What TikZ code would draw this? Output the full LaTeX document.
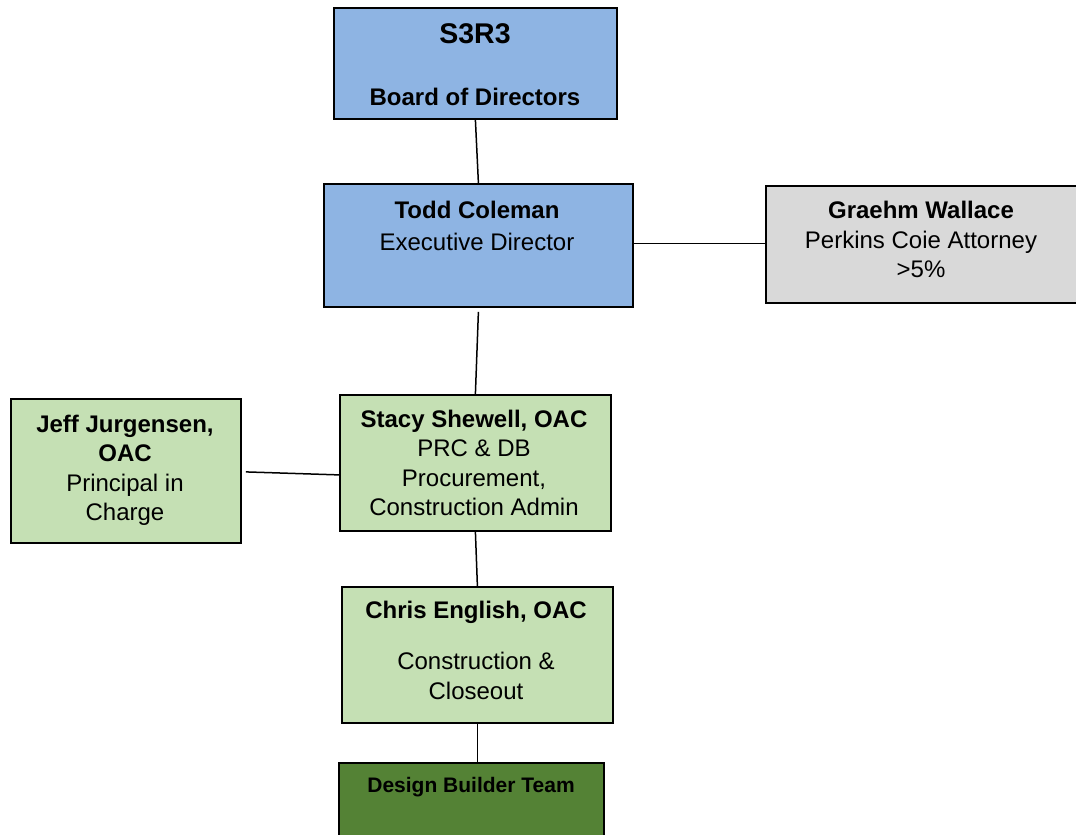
\documentclass[tikz,border=0pt]{standalone}
\usepackage{fontspec}
\setmainfont{Liberation Sans}
\definecolor{boxblue}{HTML}{8EB4E3}
\definecolor{boxgray}{HTML}{D9D9D9}
\definecolor{boxlgreen}{HTML}{C5E0B4}
\definecolor{boxdgreen}{HTML}{548235}
\begin{document}
\begin{tikzpicture}[x=1pt,y=-1pt,
  box/.style={draw=black, line width=1.8pt, inner sep=0pt, anchor=north west},
  conn/.style={draw=black, line width=1.5pt},
  txt/.style={inner sep=0pt, align=center, font=\fontsize{24}{29.5}\selectfont,
     execute at begin node=\strut, execute at end node=\strut},
  big/.style={inner sep=0pt, font=\fontsize{28.5}{34}\selectfont\bfseries},
  small/.style={inner sep=0pt, font=\fontsize{21}{25}\selectfont\bfseries,
     execute at begin node=\strut}]
\useasboundingbox (0,0) rectangle (1076,835);
% boxes
\node[box, fill=boxblue, minimum width=283pt, minimum height=111pt] (s3r3) at (333,7) {};
\node[box, fill=boxblue, minimum width=309pt, minimum height=123pt] (todd) at (323,183) {};
\node[box, fill=boxgray, minimum width=313pt, minimum height=117pt] (graehm) at (765,185) {};
\node[box, fill=boxlgreen, minimum width=271pt, minimum height=136pt] (stacy) at (339,394) {};
\node[box, fill=boxlgreen, minimum width=230pt, minimum height=144pt] (jeff) at (10,398) {};
\node[box, fill=boxlgreen, minimum width=271pt, minimum height=136pt] (chris) at (341,586) {};
\node[box, fill=boxdgreen, minimum width=265pt, minimum height=76pt] (design) at (338,762) {};
% texts
\node[big] (t-s3r3) at (475,34) {S3R3};
\node[txt, font=\fontsize{24}{29.5}\selectfont\bfseries] (t-bod) at (475,99.5) {Board of Directors};
\node[txt] (t-todd) at (477,230) {\textbf{Todd Coleman}\\[2.5pt]Executive Director};
\node[txt] (t-graehm) at (921,244) {\textbf{Graehm Wallace}\\Perkins Coie Attorney\\>5\%};
\node[txt] (t-stacy) at (474,467) {\textbf{Stacy Shewell, OAC}\\PRC \& DB\\Procurement,\\Construction Admin};
\node[txt] (t-jeff) at (125,472) {\textbf{Jeff Jurgensen,}\\\textbf{OAC}\\Principal in\\Charge};
\node[txt] (t-chris) at (476,654.5) {\textbf{Chris English, OAC}\\[21.5pt]Construction \&\\Closeout};
\node[small] (t-design) at (471,787.6) {Design Builder Team};
% connectors
\draw[conn] (s3r3.south) -- (todd.north);
\draw[conn] ([yshift=2pt]todd.east) -- ([yshift=1pt]graehm.west);
\draw[conn] ([yshift=-4pt]todd.south) -- (stacy.north);
\draw[conn] ([xshift=4pt,yshift=-1pt]jeff.east) -- ([yshift=-12pt]stacy.west);
\draw[conn] (stacy.south) -- (chris.north);
\draw[conn] (chris.south) -- (chris.south |- design.north);
\end{tikzpicture}
\end{document}
